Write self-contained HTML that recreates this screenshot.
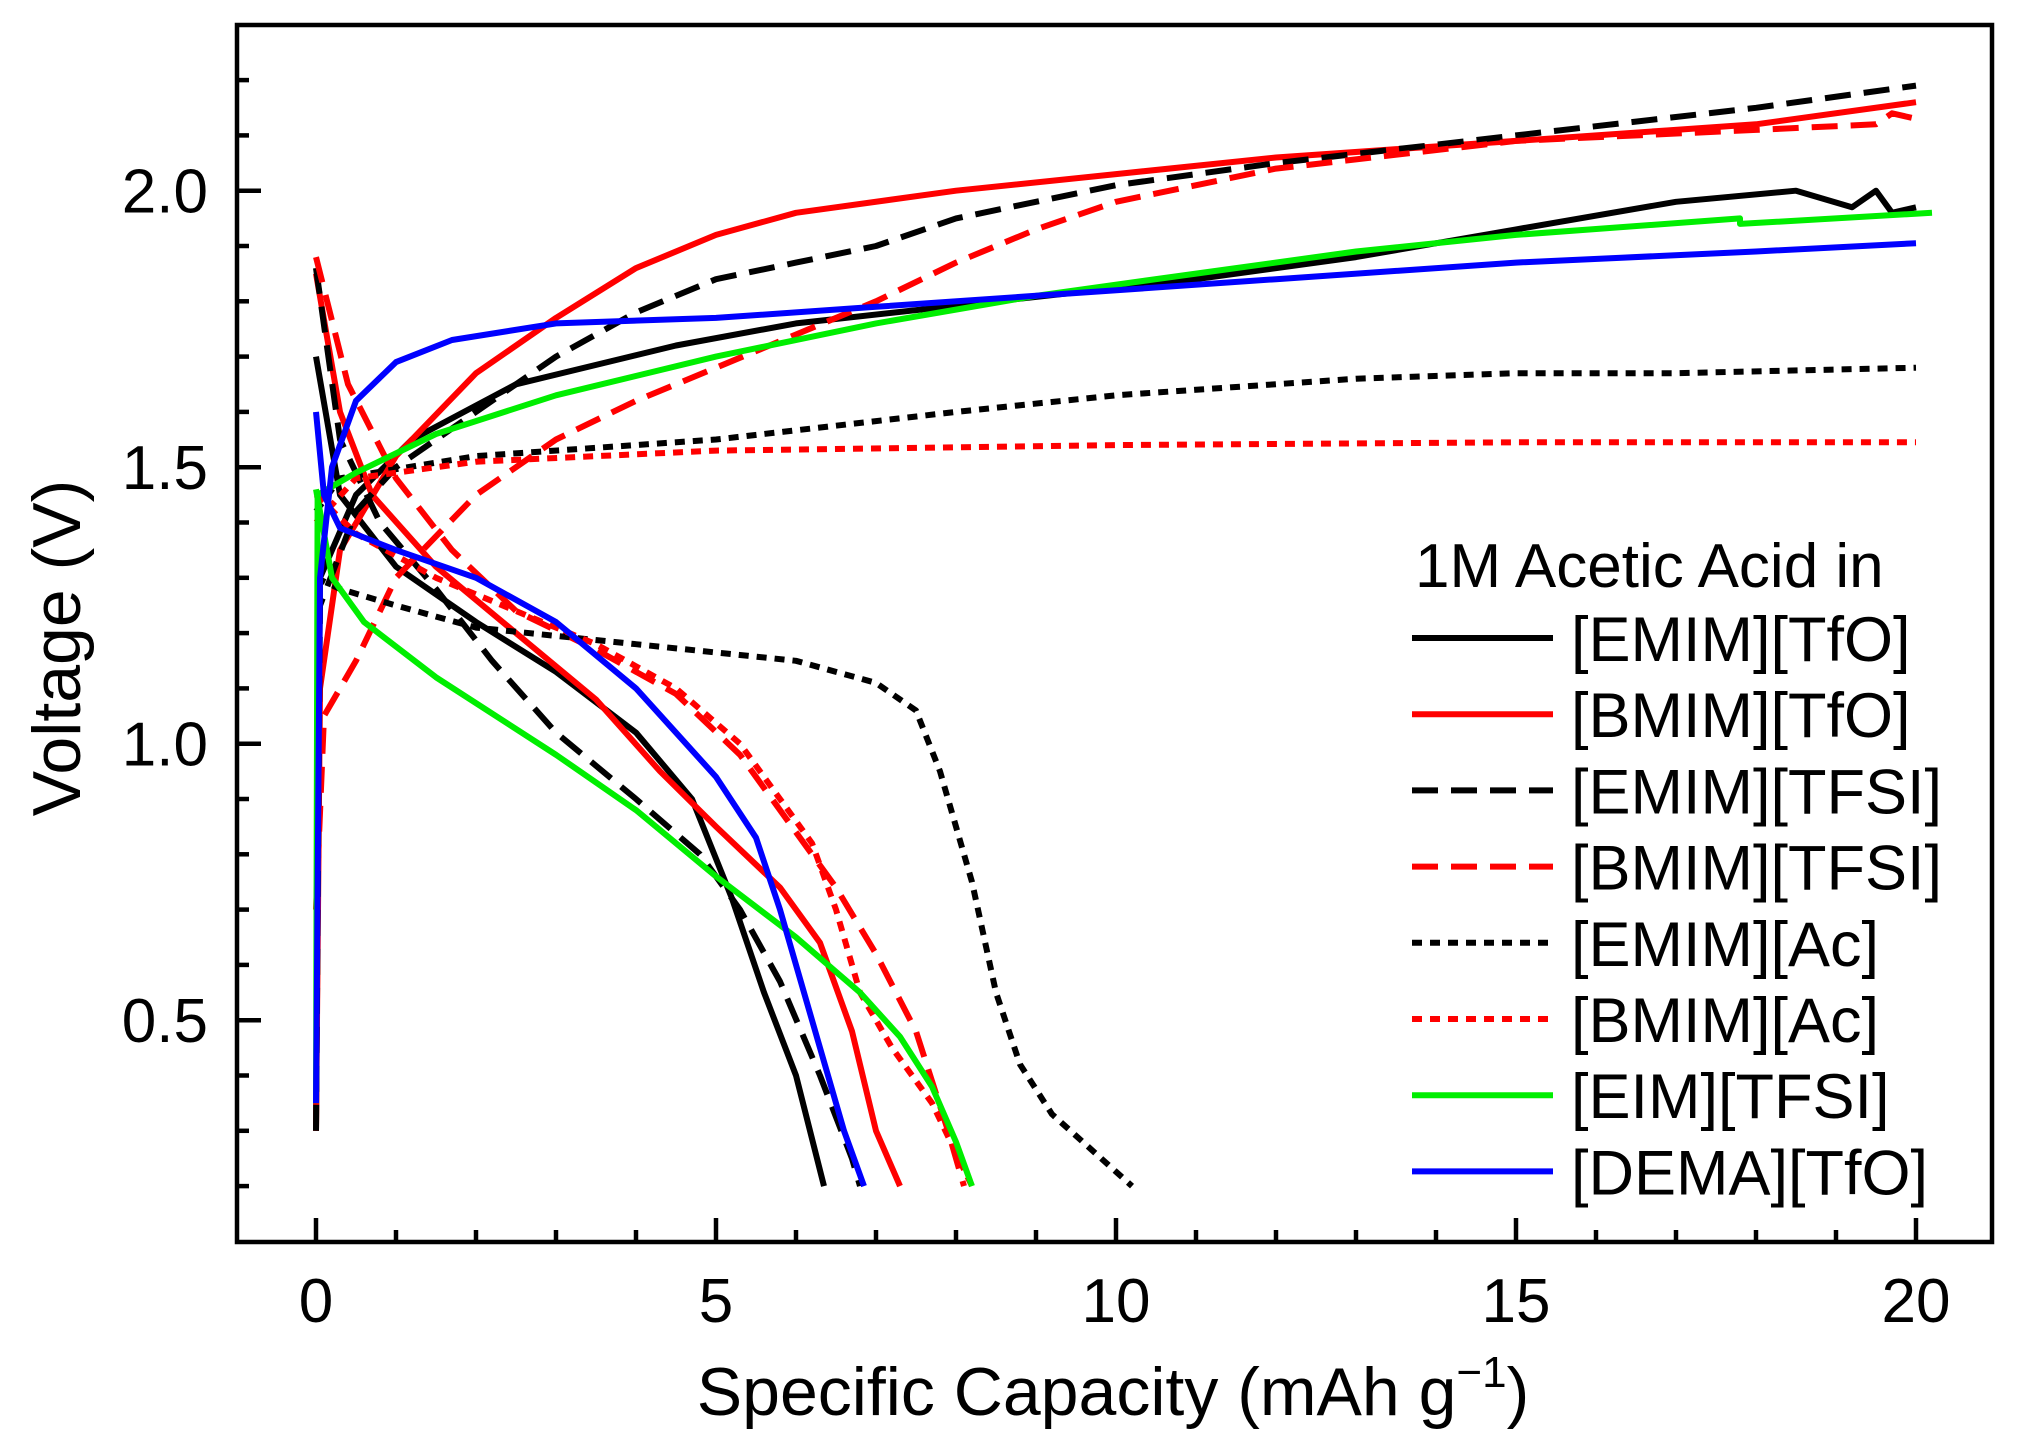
<!DOCTYPE html>
<html><head><meta charset="utf-8"><style>
html,body{margin:0;padding:0;background:#fff;}
svg{display:block;font-family:"Liberation Sans",Arial,sans-serif;}
</style></head><body>
<svg id="chart" width="2018" height="1455" viewBox="0 0 2018 1455">
<g id="plot"></g>
<g id="axes"></g>
<g id="legend"></g>
</svg>
<script>
const xTicks=[0,5,10,15,20];
const yTicks=[0.5,1.0,1.5,2.0];
const seriesNames=["[EMIM][TfO]","[BMIM][TfO]","[EMIM][TFSI]","[BMIM][TFSI]","[EMIM][Ac]","[BMIM][Ac]","[EIM][TFSI]","[DEMA][TfO]"];
const seriesColors=["#000","#f00","#000","#f00","#000","#f00","#0e0","#00f"];
const seriesDash=["none","none","26,13","26,13","10,8","10,8","none","none"];
const emimTfoCharge=[[0,0.3],[0.05,1.3],[0.5,1.45],[1.2,1.55],[2.5,1.65],[4.5,1.72],[6,1.76],[8.5,1.8],[11,1.84],[13,1.88],[15,1.93],[17,1.98],[18.5,2.0],[19.2,1.97],[19.5,2.0],[19.7,1.96],[20,1.97]];
const emimTfoDis=[[0,1.7],[0.3,1.45],[1,1.32],[2,1.22],[3,1.13],[4,1.02],[4.7,0.9],[5.2,0.72],[5.6,0.55],[6,0.4],[6.35,0.2]];
const bmimTfoCharge=[[0,0.3],[0.05,1.1],[0.3,1.35],[1,1.52],[2,1.67],[3,1.77],[4,1.86],[5,1.92],[6,1.96],[8,2.0],[10,2.03],[12,2.06],[15,2.09],[18,2.12],[20,2.16]];
const bmimTfoDis=[[0,1.85],[0.3,1.6],[0.7,1.45],[1.5,1.32],[2.5,1.2],[3.5,1.08],[4.3,0.95],[5,0.85],[5.8,0.74],[6.3,0.64],[6.7,0.48],[7,0.3],[7.3,0.2]];
const emimTfsiCharge=[[0,0.3],[0.05,1.25],[0.5,1.42],[1,1.5],[2,1.6],[3,1.7],[4,1.78],[5,1.84],[6,1.87],[7,1.9],[8,1.95],[10,2.01],[12,2.05],[15,2.1],[18,2.15],[20,2.19]];
const emimTfsiDis=[[0,1.86],[0.3,1.55],[0.8,1.4],[1.5,1.28],[2.2,1.15],[3,1.02],[4,0.9],[4.8,0.8],[5.3,0.7],[5.8,0.57],[6.3,0.4],[6.7,0.25],[6.8,0.2]];
const bmimTfsiCharge=[[0,0.7],[0.1,1.05],[0.5,1.15],[1,1.3],[2,1.45],[3,1.55],[4,1.62],[5,1.68],[6,1.74],[7,1.8],[8,1.87],[9,1.93],[10,1.98],[12,2.04],[15,2.09],[18,2.11],[19.5,2.12],[19.7,2.14],[20,2.13]];
const bmimTfsiDis=[[0,1.88],[0.4,1.65],[1,1.48],[1.7,1.35],[2.5,1.24],[3.5,1.17],[4.5,1.09],[5.3,0.98],[6,0.84],[6.5,0.74],[7,0.62],[7.5,0.48],[7.9,0.3],[8.1,0.2]];
const emimAcCharge=[[0,1.42],[0.3,1.48],[2,1.52],[5,1.55],[8,1.6],[10,1.63],[13,1.66],[15,1.67],[17,1.67],[20,1.68]];
const emimAcDis=[[0,1.3],[0.3,1.28],[1,1.25],[2,1.21],[4,1.18],[6,1.15],[7,1.11],[7.5,1.06],[7.8,0.95],[8.2,0.75],[8.5,0.55],[8.8,0.42],[9.2,0.33],[10.2,0.2]];
const bmimAcCharge=[[0,1.4],[0.5,1.48],[2,1.51],[5,1.53],[10,1.54],[15,1.545],[20,1.545]];
const bmimAcDis=[[0,1.45],[0.5,1.38],[1.5,1.3],[2.5,1.24],[3.5,1.18],[4.5,1.1],[5.3,1.0],[5.8,0.9],[6.2,0.82],[6.5,0.7],[6.8,0.55],[7.2,0.45],[7.7,0.35],[8.2,0.2]];
const eimTfsiCharge=[[0,0.35],[0.02,1.45],[0.5,1.49],[1.5,1.56],[3,1.63],[5,1.7],[7,1.76],[9,1.81],[11,1.85],[13,1.89],[15,1.92],[17.8,1.95],[17.8,1.94],[20.2,1.96]];
const eimTfsiDis=[[0,1.46],[0.2,1.3],[0.6,1.22],[1.5,1.12],[3,0.98],[4,0.88],[5,0.76],[6,0.65],[6.8,0.55],[7.3,0.47],[7.7,0.38],[8,0.28],[8.2,0.2]];
const demaTfoCharge=[[0,0.35],[0.05,1.3],[0.2,1.5],[0.5,1.62],[1,1.69],[1.7,1.73],[3,1.76],[5,1.77],[7,1.79],[9,1.81],[12,1.84],[15,1.87],[18,1.89],[20,1.905]];
const demaTfoDis=[[0,1.6],[0.1,1.45],[0.3,1.39],[1,1.35],[2,1.3],[3,1.22],[4,1.1],[5,0.94],[5.5,0.83],[5.8,0.7],[6.2,0.5],[6.6,0.3],[6.85,0.2]];
const seriesData=[[emimTfoCharge,emimTfoDis],[bmimTfoCharge,bmimTfoDis],[emimTfsiCharge,emimTfsiDis],[bmimTfsiCharge,bmimTfsiDis],[emimAcCharge,emimAcDis],[bmimAcCharge,bmimAcDis],[eimTfsiCharge,eimTfsiDis],[demaTfoCharge,demaTfoDis]];

const NS="http://www.w3.org/2000/svg";
const X=v=>316+80*v;
const Y=v=>190.7+553*(2-v);
function mk(tag,attrs,parent){const e=document.createElementNS(NS,tag);for(const k in attrs)e.setAttribute(k,attrs[k]);parent.appendChild(e);return e;}
const plot=document.getElementById('plot'),axes=document.getElementById('axes'),legend=document.getElementById('legend');
const keys=["emim-tfo","bmim-tfo","emim-tfsi","bmim-tfsi","emim-ac","bmim-ac","eim-tfsi","dema-tfo"];
seriesData.forEach((pair,i)=>{
  pair.forEach((pts,j)=>{
    const p=mk('polyline',{points:pts.map(q=>X(q[0]).toFixed(1)+','+Y(q[1]).toFixed(1)).join(' '),fill:'none',stroke:seriesColors[i],'stroke-width':6,'stroke-dasharray':seriesDash[i],'stroke-linejoin':'round'},plot);
    
    
  });
});
const fr=mk('rect',{x:237,y:25,width:1755,height:1217,fill:'none',stroke:'#000','stroke-width':4.5},axes);


for(let v=-1;v<=27;v++){const x=X(v);if(x<238||x>1990)continue;const major=v%5===0;
  const t=mk('line',{x1:x,x2:x,y1:1242,y2:1242-(major?24:12),stroke:'#000','stroke-width':4.5},axes);
  
  }
for(let k=2;k<=23;k++){const v=k/10;const y=Y(v);if(y<27||y>1240)continue;const major=k%5===0;
  const t=mk('line',{x1:237,x2:237+(major?24:12),y1:y,y2:y,stroke:'#000','stroke-width':4.5},axes);
  
  }
xTicks.forEach(v=>{const t=mk('text',{x:X(v),y:1322,'text-anchor':'middle','font-size':62},axes);t.textContent=String(v);
  
  });
yTicks.forEach(v=>{const t=mk('text',{x:208,y:Y(v)+22,'text-anchor':'end','font-size':62},axes);t.textContent=v.toFixed(1);
  
  });
const xt=mk('text',{x:1113,y:1415,'text-anchor':'middle','font-size':68},axes);
xt.innerHTML='Specific Capacity (mAh g<tspan dy="-28" font-size="44">−1</tspan><tspan dy="28">)</tspan>';


const yt=mk('text',{x:0,y:0,'text-anchor':'middle','font-size':68,transform:'translate(80,648) rotate(-90)'},axes);
yt.textContent='Voltage (V)';


const lt=mk('text',{x:1415,y:587,'font-size':62},legend);
lt.textContent='1M Acetic Acid in';


seriesNames.forEach((n,i)=>{const y=638+76.2*i;
  const g=mk('g',{},legend);
  
  
  mk('line',{x1:1412,x2:1553,y1:y,y2:y,stroke:seriesColors[i],'stroke-width':6,'stroke-dasharray':seriesDash[i]},g);
  const t=mk('text',{x:1571,y:y+23,'font-size':63},g);t.textContent=n;});
</script>
</body></html>
